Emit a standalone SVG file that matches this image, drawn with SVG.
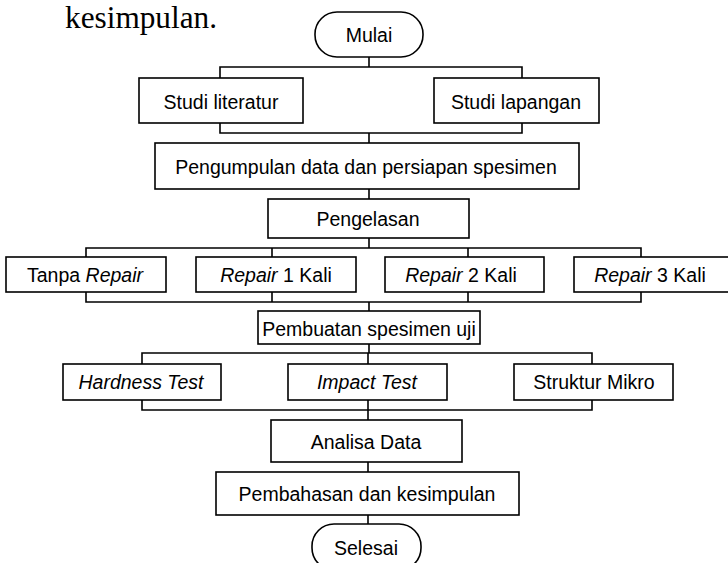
<svg xmlns="http://www.w3.org/2000/svg" width="728" height="563" viewBox="0 0 728 563">
<style>
.b{fill:#fff;stroke:#000;stroke-width:1.6}
.t{font-family:"Liberation Sans",Arial,sans-serif;font-size:19.5px;text-anchor:middle;fill:#000}
.i{font-style:italic}
.c{fill:none;stroke:#000;stroke-width:1.6}
</style>
<rect width="728" height="563" fill="#fff"/>
<text x="65" y="28" font-family="'Liberation Serif','Times New Roman',serif" font-size="31" textLength="152" lengthAdjust="spacingAndGlyphs" fill="#000">kesimpulan.</text>
<g id="connectors">
<path class="c" d="M369 57V67M220 78V67H522V78"/>
<path class="c" d="M220 123V133H522V123M369 133V143"/>
<path class="c" d="M369 189V199"/>
<path class="c" d="M369 238V248M86 257V248H641V257M272 248V257M468 248V257"/>
<path class="c" d="M86 292V302H641V292M272 292V302M468 292V302M369 302V311"/>
<path class="c" d="M369 344V353M142 365V353H592V365M368 353V365"/>
<path class="c" d="M142 400V410H592V400M368 400V420"/>
<path class="c" d="M368 462V472"/>
<path class="c" d="M368 515V524"/>
</g>
<g id="mulai"><rect class="b" x="315" y="12" width="108" height="45" rx="22" ry="22"/><text class="t" x="369" y="42">Mulai</text></g>
<g id="studi-literatur"><rect class="b" x="139" y="78" width="164" height="45"/><text class="t" x="221" y="109">Studi literatur</text></g>
<g id="studi-lapangan"><rect class="b" x="434" y="78" width="165" height="45"/><text class="t" x="516" y="109">Studi lapangan</text></g>
<g id="pengumpulan"><rect class="b" x="155" y="143" width="424" height="46"/><text class="t" x="366" y="174">Pengumpulan data dan persiapan spesimen</text></g>
<g id="pengelasan"><rect class="b" x="268" y="199" width="201" height="39"/><text class="t" x="368" y="226">Pengelasan</text></g>
<g id="tanpa-repair"><rect class="b" x="6" y="257" width="160" height="35"/><text class="t" x="85" y="282">Tanpa <tspan class="i">Repair</tspan></text></g>
<g id="repair-1"><rect class="b" x="196" y="257" width="160" height="35"/><text class="t" x="276" y="282"><tspan class="i">Repair</tspan> 1 Kali</text></g>
<g id="repair-2"><rect class="b" x="385" y="257" width="159" height="35"/><text class="t" x="461" y="282"><tspan class="i">Repair</tspan> 2 Kali</text></g>
<g id="repair-3"><rect class="b" x="574" y="257" width="158" height="35"/><text class="t" x="650" y="282"><tspan class="i">Repair</tspan> 3 Kali</text></g>
<g id="pembuatan"><rect class="b" x="258" y="311" width="222" height="33"/><text class="t" x="369" y="336">Pembuatan spesimen uji</text></g>
<g id="hardness"><rect class="b" x="63" y="364" width="158" height="36"/><text class="t i" x="141" y="389">Hardness Test</text></g>
<g id="impact"><rect class="b" x="288" y="364" width="159" height="36"/><text class="t i" x="367" y="389">Impact Test</text></g>
<g id="struktur"><rect class="b" x="514" y="364" width="159" height="36"/><text class="t" x="594" y="389">Struktur Mikro</text></g>
<g id="analisa"><rect class="b" x="271" y="420" width="191" height="42"/><text class="t" x="366" y="449">Analisa Data</text></g>
<g id="pembahasan"><rect class="b" x="216" y="472" width="303" height="43"/><text class="t" x="367" y="501">Pembahasan dan kesimpulan</text></g>
<g id="selesai"><rect class="b" x="312" y="524" width="109" height="46" rx="22" ry="22"/><text class="t" x="366" y="555">Selesai</text></g>
</svg>
